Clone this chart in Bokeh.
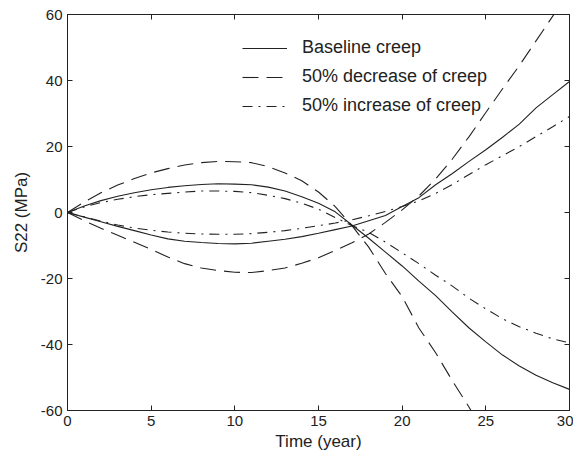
from bokeh.plotting import figure
from bokeh.models import Range1d, LinearAxis, Legend, LegendItem, FixedTicker
from bokeh.embed import file_html
from bokeh.resources import INLINE

time = list(range(0, 31))

baseline_upper = [0, 2.0, 3.6, 4.9, 6.0, 6.9, 7.6, 8.1, 8.5, 8.7, 8.6, 8.4, 7.7, 6.5, 4.8, 2.8,
                  0.2, -3.8, -7.8, -12.0, -16.2, -20.8, -25.2, -30.2, -35.0, -39.2, -43.2,
                  -46.5, -49.3, -51.6, -53.6]
baseline_lower = [0, -1.4, -2.8, -4.2, -5.5, -6.8, -8.0, -8.7, -9.1, -9.4, -9.5, -9.3, -8.7,
                  -8.1, -7.3, -6.3, -5.2, -4.1, -2.5, -0.9, 1.8, 4.5, 8.4, 11.8, 15.5, 19.0,
                  22.8, 26.8, 31.7, 35.7, 39.7]
decrease_upper = [0, 3.2, 6.0, 8.3, 10.3, 12.0, 13.3, 14.4, 15.1, 15.5, 15.4, 15.1, 13.9, 12.0,
                  9.6, 6.2, 1.8, -4.0, -10.5, -18.5, -25.5, -35.0, -42.5, -51.0, -59.0, -68.0,
                  -77.0, -86.0, -95.0, -104.0, -113.0]
decrease_lower = [0, -2.5, -4.8, -6.9, -9.0, -11.2, -13.5, -15.5, -16.8, -17.6, -18.1, -18.2,
                  -17.6, -16.8, -15.4, -13.7, -11.5, -9.2, -6.5, -3.0, 0.8, 5.0, 10.2, 16.2,
                  23.0, 30.3, 37.5, 44.5, 52.0, 59.5, 67.0]
increase_upper = [0, 1.7, 3.0, 4.0, 4.8, 5.4, 5.8, 6.2, 6.5, 6.5, 6.4, 6.0, 5.2, 4.2, 2.8, 1.0,
                  -1.5, -4.0, -6.0, -9.0, -12.2, -15.5, -19.0, -22.3, -26.0, -29.2, -32.2,
                  -34.6, -36.6, -38.3, -39.5]
increase_lower = [0, -1.3, -2.6, -3.8, -4.7, -5.4, -5.9, -6.3, -6.5, -6.6, -6.6, -6.4, -6.0,
                  -5.5, -4.8, -4.0, -3.2, -2.2, -1.0, 0.3, 1.8, 3.5, 5.8, 8.5, 11.5, 14.5,
                  17.2, 20.0, 23.0, 26.0, 29.1]

x_ticks = [0, 5, 10, 15, 20, 25, 30]
y_ticks = [-60, -40, -20, 0, 20, 40, 60]
legend_labels = ["Baseline creep", "50% decrease of creep", "50% increase of creep"]

FONT = "Liberation Sans"
INK = "#222222"

p = figure(width=573, height=455, output_backend="svg", toolbar_location=None,
           x_range=Range1d(0, 30), y_range=Range1d(-60, 60),
           min_border_left=67, min_border_right=4, min_border_top=14, min_border_bottom=45,
           background_fill_color="white", border_fill_color="white")
p.grid.visible = False
p.outline_line_color = INK
p.outline_line_width = 1

for ax in [p.xaxis[0], p.yaxis[0]]:
    ax.major_tick_in = 5
    ax.major_tick_out = 0
    ax.minor_tick_in = 0
    ax.minor_tick_out = 0
    ax.axis_line_color = INK
    ax.major_tick_line_color = INK
    ax.major_label_text_font = FONT
    ax.major_label_text_font_size = "15px"
    ax.major_label_text_color = "#222222"
    ax.axis_label_text_font = FONT
    ax.axis_label_text_font_size = "17px"
    ax.axis_label_text_font_style = "normal"
    ax.axis_label_text_color = "#222222"

p.xaxis[0].ticker = FixedTicker(ticks=x_ticks)
p.yaxis[0].ticker = FixedTicker(ticks=y_ticks)
p.xaxis[0].major_label_overrides = {t: str(t) for t in x_ticks}
p.yaxis[0].major_label_overrides = {t: str(t) for t in y_ticks}
p.xaxis[0].axis_label = "Time (year)"
p.yaxis[0].axis_label = "S22 (MPa)"
p.xaxis[0].major_label_standoff = 5
p.xaxis[0].axis_label_standoff = 3
p.yaxis[0].major_label_standoff = 5
p.yaxis[0].axis_label_standoff = 7

for loc, ticks in [("above", x_ticks), ("right", y_ticks)]:
    ax = LinearAxis(ticker=FixedTicker(ticks=ticks), major_tick_in=5, major_tick_out=0,
                    minor_tick_in=0, minor_tick_out=0, axis_line_color=INK,
                    major_tick_line_color=INK, major_label_text_font_size="15px",
                    major_label_overrides={t: "" for t in ticks},
                    major_label_standoff=0)
    p.add_layout(ax, loc)

lw = 1.1
r1 = p.line(time, baseline_upper, line_color=INK, line_width=lw)
p.line(time, baseline_lower, line_color=INK, line_width=lw)
r2 = p.line(time, decrease_upper, line_color=INK, line_width=lw, line_dash="16 8")
p.line(time, decrease_lower, line_color=INK, line_width=lw, line_dash="16 8")
r3 = p.line(time, increase_upper, line_color=INK, line_width=lw, line_dash="10 6 2 6")
p.line(time, increase_lower, line_color=INK, line_width=lw, line_dash="10 6 2 6")

legend = Legend(items=[LegendItem(label=legend_labels[0], renderers=[r1]),
                       LegendItem(label=legend_labels[1], renderers=[r2]),
                       LegendItem(label=legend_labels[2], renderers=[r3])],
                location=(175, 294), border_line_alpha=0, background_fill_alpha=0,
                glyph_width=45, glyph_height=20, label_height=20, spacing=8,
                padding=0, margin=0, label_standoff=15,
                label_text_font=FONT, label_text_font_size="18px",
                label_text_color="#222222")
p.add_layout(legend, "center")

open("out.html", "w").write(file_html(p, INLINE))
